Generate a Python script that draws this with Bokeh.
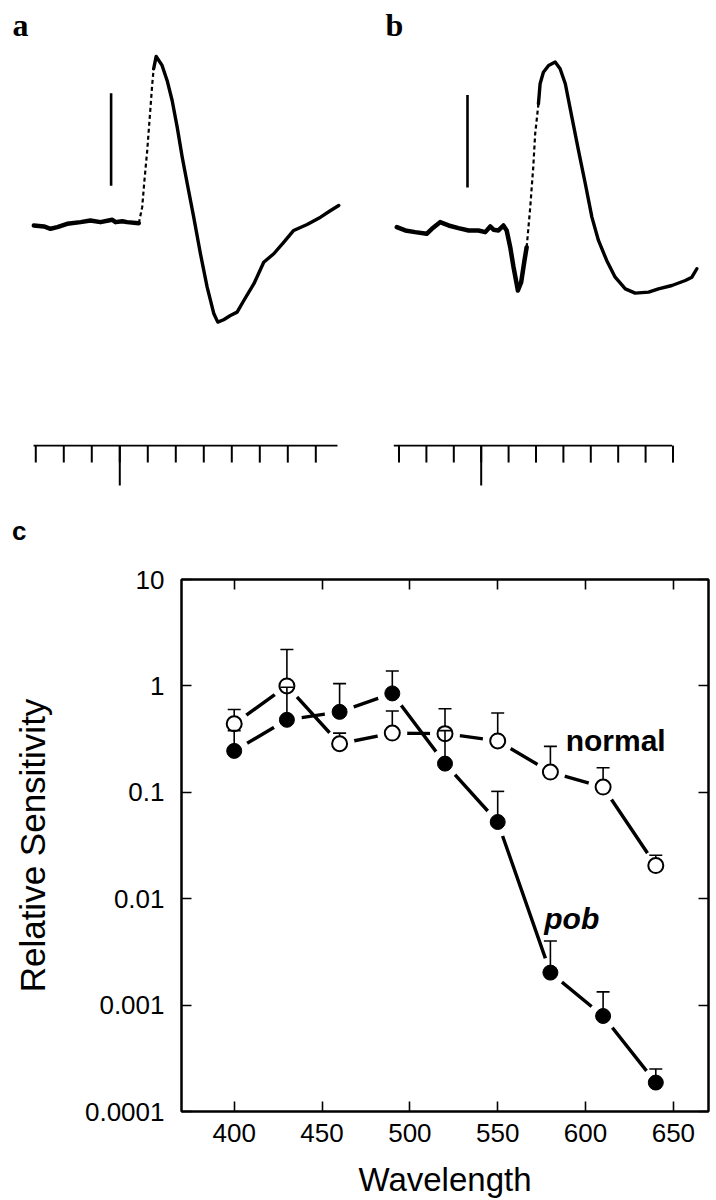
import math
from bokeh.plotting import figure
from bokeh.models import Range1d, FixedTicker, LinearAxis, LogAxis, CustomJSTickFormatter, Label
from bokeh.layouts import column, row
from bokeh.embed import file_html
from bokeh.resources import INLINE

# ---------------- Data: panel a (time in ms, amplitude in microvolts) ----------------
a_base_t = [-30.7, -27.1, -24.75, -22.3, -18.8, -14.0, -10.5, -6.9, -2.7, -1.5, 0.9, 2.6, 6.8]
a_base_v = [0.0, -1.1, -3.6, -1.8, 1.8, 3.6, 5.4, 3.6, 6.2, 3.6, 4.6, 3.6, 2.5]
a_dash_t = [6.8, 8.0, 8.8, 9.8, 10.7, 11.6, 12.1]
a_dash_v = [2.5, 19.8, 48.6, 81.0, 117.0, 153.0, 169.4]
a_resp_t = [12.1, 13.0, 15.1, 16.9, 18.7, 20.5, 22.3, 24.1, 26.4, 28.8, 31.2, 33.6, 35.0,
            37.1, 39.5, 41.9, 44.3, 47.9, 51.4, 55.0, 58.6, 62.1, 66.9, 71.7, 75.3, 78.2]
a_resp_v = [169.4, 182.7, 173.0, 156.8, 135.1, 106.3, 73.8, 45.1, 9.0, -30.6, -66.7, -95.5, -104.5,
            -101.9, -97.3, -93.7, -81.1, -63.0, -39.7, -30.6, -18.0, -5.4, 1.1, 9.0, 16.2, 21.6]

# ---------------- Data: panel b ----------------
b_base_t = [-30.8, -27.7, -24.1, -19.9, -18.0, -15.0, -11.9, -8.3, -4.6, -1.0, 1.5, 3.3, 4.5, 6.3, 8.1, 9.3,
            10.6, 11.8, 13.4, 14.6, 15.8, 16.6]
b_base_v = [-1.8, -5.4, -7.2, -9.0, -3.6, 3.6, 0.0, -2.9, -5.4, -5.4, -7.2, -1.1, -4.6, -5.4, 0.0, -5.4,
            -23.5, -45.1, -70.3, -61.3, -37.8, -23.5]
b_dash_t = [16.6, 17.9, 19.0, 19.7, 20.9]
b_dash_v = [-23.5, 19.8, 63.0, 99.1, 131.6]
b_resp_t = [20.9, 21.5, 22.7, 24.6, 27.0, 28.8, 30.7, 33.1, 35.5, 38.0, 40.4, 42.8, 45.8, 48.9,
            52.6, 56.2, 61.1, 64.7, 69.6, 74.5, 76.9, 78.7]
b_resp_v = [131.6, 153.2, 165.7, 173.0, 176.6, 169.4, 153.2, 117.1, 81.1, 45.1, 9.0, -16.2, -37.8, -55.9,
            -68.5, -73.2, -72.1, -68.5, -64.9, -59.5, -55.9, -46.8]

# time scale ticks (ms), stimulus tick, scale bar (uV)
time_ticks = [-30, -20, -10, 0, 10, 20, 30, 40, 50, 60, 70]
stim_tick = [0]
a_time_extent = (-30.8, 77.75)
b_time_extent = (-31.9, 69.7)
scale_bar_uV = 100
a_bar = dict(t=-3.1, v0=43.0)
b_bar = dict(t=-5.0, v0=41.0)

# ---------------- Data: panel c ----------------
wavelength = [400, 430, 460, 490, 520, 550, 580, 610, 640]
normal_sens = [0.44, 1.0, 0.286, 0.36, 0.356, 0.304, 0.155, 0.112, 0.0205]
normal_upper = [0.60, 2.2, 0.36, 0.58, 0.61, 0.557, 0.27, 0.17, 0.0256]
pob_sens = [0.245, 0.48, 0.57, 0.85, 0.186, 0.0526, 0.00202, 0.00079, 0.000187]
pob_upper = [0.38, 0.97, 1.05, 1.38, 0.38, 0.102, 0.0040, 0.00133, 0.000251]
x_ticks = [400, 450, 500, 550, 600, 650]
y_ticks = [1e-4, 1e-3, 1e-2, 1e-1, 1, 10]

Y_RANGE = (-351.4, 243.2)
TIME_LEVEL = -238.0


def trace_fig(width, x0, x1):
    p = figure(width=width, height=550, x_range=Range1d(x0, x1), y_range=Range1d(*Y_RANGE),
               output_backend="svg", toolbar_location=None, x_axis_type=None, y_axis_type=None,
               min_border_left=0, min_border_right=0, min_border_top=0, min_border_bottom=0)
    p.outline_line_color = None
    p.background_fill_color = "white"
    p.border_fill_color = "white"
    return p


def draw_trace(p, base_t, base_v, dash_t, dash_v, resp_t, resp_v, bar, extent, label, lx):
    p.line(base_t, base_v, line_width=4.5, color="black", line_join="round", line_cap="round")
    p.line(dash_t, dash_v, line_width=2.2, color="black", line_dash="4 3")
    p.line(resp_t, resp_v, line_width=3.4, color="black", line_join="round", line_cap="round")
    # scale bar
    p.segment(x0=[bar["t"]], y0=[bar["v0"]], x1=[bar["t"]], y1=[bar["v0"] + scale_bar_uV],
              line_width=2.6, color="black")
    # time scale
    p.segment(x0=[extent[0]], y0=[TIME_LEVEL], x1=[extent[1]], y1=[TIME_LEVEL], line_width=1.6, color="black")
    p.ray(x=time_ticks, y=[TIME_LEVEL] * len(time_ticks), length=17, length_units="screen",
          angle=-math.pi / 2, line_width=2, color="black")
    p.ray(x=stim_tick, y=[TIME_LEVEL], length=40, length_units="screen",
          angle=-math.pi / 2, line_width=2, color="black")
    p.add_layout(Label(x=lx, y=217.0, text=label, text_font="Liberation Serif", text_font_style="bold",
                       text_font_size="32px", text_color="black", text_baseline="alphabetic"))


pa = trace_fig(358, -42.6, 85.25)
draw_trace(pa, a_base_t, a_base_v, a_dash_t, a_dash_v, a_resp_t, a_resp_v, a_bar, a_time_extent, "a", -38.3)
pa.add_layout(Label(x=-38.5, y=-330.0, text="c", text_font="Liberation Sans", text_font_style="bold",
                    text_font_size="26px", text_color="black", text_baseline="alphabetic"))
pb = trace_fig(358, -44.78, 85.88)
draw_trace(pb, b_base_t, b_base_v, b_dash_t, b_dash_v, b_resp_t, b_resp_v, b_bar, b_time_extent, "b", -34.9)

# ---------------- Panel c ----------------
pc = figure(width=716, height=650, x_range=Range1d(370, 670), y_range=Range1d(1e-4, 10),
            y_axis_type="log", output_backend="svg", toolbar_location=None,
            min_border_left=181, min_border_right=8, min_border_top=29, min_border_bottom=89)
pc.grid.visible = False
pc.outline_line_color = "black"
pc.outline_line_width = 2
pc.background_fill_color = "white"
pc.border_fill_color = "white"

bottom_axis = pc.below[0]
left_axis = pc.left[0]
bottom_axis.ticker = FixedTicker(ticks=x_ticks)
left_axis.ticker = FixedTicker(ticks=y_ticks)
left_axis.formatter = CustomJSTickFormatter(code="return String(parseFloat(tick.toPrecision(6)));")
bottom_axis.axis_label = "Wavelength"
left_axis.axis_label = "Relative Sensitivity"

top_axis = LinearAxis(ticker=FixedTicker(ticks=x_ticks), major_label_text_font_size="1px",
                      major_label_text_alpha=0, major_label_standoff=0)
right_axis = LogAxis(ticker=FixedTicker(ticks=y_ticks), major_label_text_font_size="1px",
                     major_label_text_alpha=0, major_label_standoff=0)
pc.add_layout(top_axis, "above")
pc.add_layout(right_axis, "right")

for ax in [bottom_axis, left_axis, top_axis, right_axis]:
    ax.axis_line_width = 2
    ax.axis_line_color = "black"
    ax.major_tick_in = 10
    ax.major_tick_out = 0
    ax.major_tick_line_width = 1.6
    ax.major_tick_line_color = "black"
    ax.minor_tick_line_color = None

for ax in [bottom_axis, left_axis]:
    ax.major_label_text_color = "black"
    ax.major_label_text_font = "Liberation Sans"
    ax.major_label_text_font_size = "26px"
    ax.axis_label_text_font = "Liberation Sans"
    ax.axis_label_text_color = "black"
    ax.axis_label_text_font_style = "normal"

bottom_axis.axis_label_text_font_size = "33px"
left_axis.axis_label_text_font_size = "35px"
bottom_axis.major_label_standoff = 12
bottom_axis.axis_label_standoff = 16
left_axis.major_label_standoff = 17
left_axis.axis_label_standoff = 30

# connecting lines
pc.line(wavelength, normal_sens, line_width=3.4, color="black")
pc.line(wavelength, pob_sens, line_width=3.4, color="black")
# white gaps around the markers
pc.scatter(wavelength, normal_sens, size=30, fill_color="white", line_color=None)
pc.scatter(wavelength, pob_sens, size=30, fill_color="white", line_color=None)
# normal: error bars then open markers
pc.segment(x0=wavelength, y0=normal_sens, x1=wavelength, y1=normal_upper, line_width=1.6, color="black")
pc.scatter(wavelength, normal_upper, marker="dash", size=13, line_width=1.6, line_color="black")
pc.scatter(wavelength, normal_sens, size=15, fill_color="white", line_color="black", line_width=2)
# pob: error bars then filled markers
pc.segment(x0=wavelength, y0=pob_sens, x1=wavelength, y1=pob_upper, line_width=1.6, color="black")
pc.scatter(wavelength, pob_upper, marker="dash", size=13, line_width=1.6, line_color="black")
pc.scatter(wavelength, pob_sens, size=15, fill_color="black", line_color="black", line_width=1)

pc.add_layout(Label(x=588.7, y=0.305, text="normal", text_font="Liberation Sans", text_font_style="bold",
                    text_font_size="30px", text_color="black", text_baseline="alphabetic"))
pc.add_layout(Label(x=576.5, y=0.00655, text="pob", text_font="Liberation Sans",
                    text_font_style="bold italic", text_font_size="30px", text_color="black",
                    text_baseline="alphabetic"))

layout = column(row(pa, pb), pc)
open("out.html", "w").write(file_html(layout, INLINE))
